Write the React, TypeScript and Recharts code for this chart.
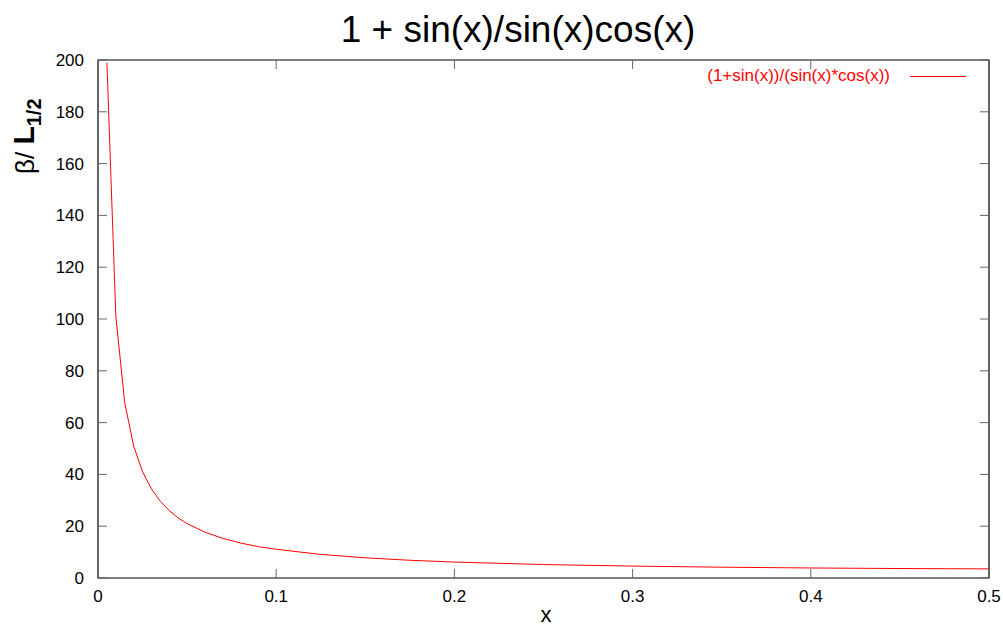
import { LineChart, Line, XAxis, YAxis, ReferenceArea } from 'recharts';

// values
const xValues = [
  0.005, 0.01, 0.015, 0.02, 0.025, 0.03, 0.035, 0.04, 0.045, 0.05,
  0.06, 0.07, 0.08, 0.09, 0.1, 0.125, 0.15, 0.175, 0.2,
  0.25, 0.3, 0.35, 0.4, 0.45, 0.5,
];
const yValues = [
  199, 101, 67.7, 51, 41, 34.4, 29.6, 26, 23.2, 21,
  17.7, 15.3, 13.5, 12.1, 11.1, 9.1, 7.8, 6.85, 6.15,
  5.2, 4.6, 4.17, 3.87, 3.66, 3.52,
];
const xTicks = [0, 0.1, 0.2, 0.3, 0.4, 0.5];
const yTicks = [0, 20, 40, 60, 80, 100, 120, 140, 160, 180, 200];

const data = xValues.map((x, i) => ({ x, y: yValues[i] }));

const FONT = '"Liberation Sans", Arial, sans-serif';
const PLOT = { left: 98, right: 989, top: 60, bottom: 578 };
const TICK_LEN = 9;
const tickColor = '#666';

const XTick = (props: any) => {
  const { x, payload } = props;
  return (
    <g>
      <line x1={x} x2={x} y1={PLOT.bottom} y2={PLOT.bottom - TICK_LEN} stroke={tickColor} />
      <line x1={x} x2={x} y1={PLOT.top} y2={PLOT.top + TICK_LEN} stroke={tickColor} />
      <text x={x} y={PLOT.bottom + 24} textAnchor="middle" fontSize={17} fill="#000" fontFamily={FONT}>
        {payload.value}
      </text>
    </g>
  );
};

const YTick = (props: any) => {
  const { y, payload } = props;
  return (
    <g>
      <line x1={PLOT.left} x2={PLOT.left + TICK_LEN} y1={y} y2={y} stroke={tickColor} />
      <line x1={PLOT.right} x2={PLOT.right - TICK_LEN} y1={y} y2={y} stroke={tickColor} />
      <text x={84} y={y + 6} textAnchor="end" fontSize={17} fill="#000" fontFamily={FONT}>
        {payload.value}
      </text>
    </g>
  );
};

export default function App() {
  return (
    <div style={{ position: 'absolute', left: 0, top: 0, width: 1003, height: 629, background: '#fff', fontFamily: FONT }}>
      <LineChart width={1003} height={629} data={data} margin={{ top: 60, right: 14, left: 0, bottom: 0 }}>
        <XAxis
          dataKey="x"
          type="number"
          domain={[0, 0.5]}
          ticks={xTicks}
          height={51}
          axisLine={false}
          tickLine={false}
          tick={<XTick />}
          interval={0}
        />
        <YAxis
          type="number"
          domain={[0, 200]}
          ticks={yTicks}
          width={98}
          axisLine={false}
          tickLine={false}
          tick={<YTick />}
          interval={0}
          allowDataOverflow
        />
        <ReferenceArea x1={0} x2={0.5} y1={0} y2={200} fill="none" stroke="#000" strokeWidth={1.2} ifOverflow="visible" />
        <Line
          dataKey="y"
          type="linear"
          stroke="#ff0000"
          strokeWidth={1}
          dot={false}
          isAnimationActive={false}
        />
      </LineChart>

      {/* title */}
      <div style={{ position: 'absolute', left: 0, width: 1036, top: 10, textAlign: 'center', fontSize: 37, lineHeight: '40px', color: '#000' }}>
        1 + sin(x)/sin(x)cos(x)
      </div>

      {/* legend */}
      <div style={{ position: 'absolute', right: 1003 - 890, top: 66, fontSize: 17, lineHeight: '20px', color: '#ff0000', whiteSpace: 'nowrap' }}>
        (1+sin(x))/(sin(x)*cos(x))
      </div>
      <div style={{ position: 'absolute', left: 910, width: 56, top: 76, height: 1, background: '#ff0000' }} />

      {/* axis labels */}
      <svg style={{ position: 'absolute', left: 0, top: 0 }} width={1003} height={629}>
        <text x={546} y={622} textAnchor="middle" fontFamily={FONT} fontSize={22} fill="#000">x</text>
        <text transform="translate(34, 174) rotate(-90)" fontFamily={FONT} fill="#000">
          <tspan fontSize={26}>β/ </tspan>
          <tspan fontSize={30} fontWeight="bold">L</tspan>
          <tspan fontSize={20} fontWeight="bold" dy={7}>1/2</tspan>
        </text>
      </svg>
    </div>
  );
}
